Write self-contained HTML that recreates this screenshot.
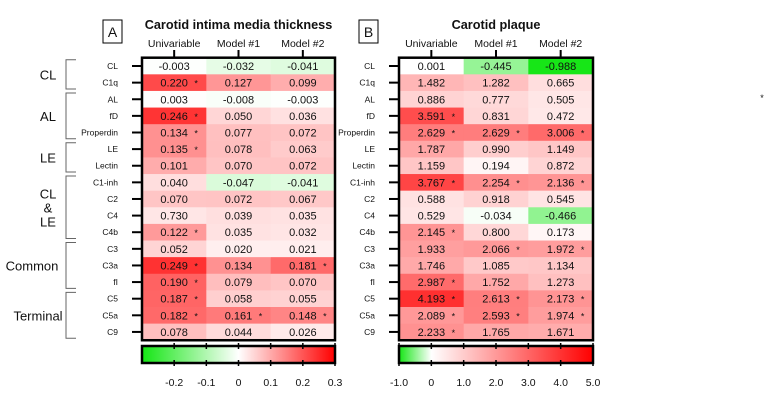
<!DOCTYPE html>
<html><head><meta charset="utf-8"><style>
html,body{margin:0;padding:0;background:#fff;}
svg{display:block;font-family:"Liberation Sans",Arial,sans-serif;}
</style></head><body>
<svg id="fig" width="780" height="405" viewBox="0 0 780 405">
<defs>
<linearGradient id="gA" x1="0" x2="1"><stop offset="0" stop-color="rgb(20,230,20)"/><stop offset="0.5" stop-color="#fff"/><stop offset="1" stop-color="rgb(255,0,0)"/></linearGradient>
<linearGradient id="gB" x1="0" x2="1"><stop offset="0" stop-color="rgb(20,230,20)"/><stop offset="0.1667" stop-color="#fff"/><stop offset="1" stop-color="rgb(255,0,0)"/></linearGradient>
</defs>
</svg>
<script>
const rows = ["CL","C1q","AL","fD","Properdin","LE","Lectin","C1-inh","C2","C4","C4b","C3","C3a","fI","C5","C5a","C9"];
const cols = ["Univariable","Model #1","Model #2"];
const groups = ["CL","AL","LE","CL\n&\nLE","Common","Terminal"];
const groupStart = [0,2,5,7,11,14];
const groupEnd = [1,4,6,10,13,16];
const aUni = [-0.003,0.220,0.003,0.246,0.134,0.135,0.101,0.040,0.070,0.030,0.122,0.052,0.249,0.190,0.187,0.182,0.078];
const aM1 = [-0.032,0.127,-0.008,0.050,0.077,0.078,0.070,-0.047,0.072,0.039,0.035,0.020,0.134,0.079,0.058,0.161,0.044];
const aM2 = [-0.041,0.099,-0.003,0.036,0.072,0.063,0.072,-0.041,0.067,0.035,0.032,0.021,0.181,0.070,0.055,0.148,0.026];
const aUniText = ["-0.003","0.220","0.003","0.246","0.134","0.135","0.101","0.040","0.070","0.730","0.122","0.052","0.249","0.190","0.187","0.182","0.078"];
const aSig = [[0,1,0,1,1,1,0,0,0,0,1,0,1,1,1,1,0],[0,0,0,0,0,0,0,0,0,0,0,0,0,0,0,1,0],[0,0,0,0,0,0,0,0,0,0,0,0,1,0,0,1,0]];
const bUni = [0.001,1.482,0.886,3.591,2.629,1.787,1.159,3.767,0.588,0.529,2.145,1.933,1.746,2.987,4.193,2.089,2.233];
const bM1 = [-0.445,1.282,0.777,0.831,2.629,0.990,0.194,2.254,0.918,-0.034,0.800,2.066,1.085,1.752,2.613,2.593,1.765];
const bM2 = [-0.988,0.665,0.505,0.472,3.006,1.149,0.872,2.136,0.545,-0.466,0.173,1.972,1.134,1.273,2.173,1.974,1.671];
const bSig = [[0,0,0,1,1,0,0,1,0,0,1,0,0,1,1,1,1],[0,0,0,0,1,0,0,1,0,0,0,1,0,0,1,1,0],[0,0,0,0,1,0,0,1,0,0,0,1,0,0,1,1,0]];
const aTicks = [-0.2,-0.1,0,0.1,0.2,0.3];
const aTickText = ["-0.2","-0.1","0","0.1","0.2","0.3"];
const bTicks = [-1,0,1,2,3,4,5];
const bTickText = ["-1.0","0","1.0","2.0","3.0","4.0","5.0"];

const NS="http://www.w3.org/2000/svg";
const svg=document.getElementById('fig');
function mk(tag,attrs,parent){const e=document.createElementNS(NS,tag);for(const k in attrs)e.setAttribute(k,attrs[k]);(parent||svg).appendChild(e);return e;}
function txt(s,x,y,size,anchor,weight,parent){const t=mk('text',{x:x,y:y,'font-size':size,'text-anchor':anchor||'middle','font-weight':weight||'normal',fill:'#111'},parent);t.textContent=s;return t;}
const topY=57.7, rowH=16.62;
function rowY(i){return topY+i*rowH;}
function color(v,min,max){
  if(v>=0){const f=Math.min(1,v/max);const g=Math.round(255*(1-f*0.97));return `rgb(255,${g},${g})`;}
  const f=Math.min(1,v/min);return `rgb(${Math.round(255-235*f)},${Math.round(255-25*f)},${Math.round(255-235*f)})`;
}
function panel(cfg){
  const g=mk('g',{});
  
  
  const x0=cfg.x0, cw=(cfg.x1-cfg.x0)/3;
  const sx=v=>x0+(v-cfg.min)/(cfg.max-cfg.min)*(cfg.x1-x0);
  const lb=mk('rect',{x:cfg.lx,y:20,width:19,height:23,fill:'#fff',stroke:'#000','stroke-width':1},g);
  
  
  const lt=txt(cfg.letter,cfg.lx+9.5,37,14,'middle','normal',g);
  
  
  const tt=txt(cfg.title,(x0+cfg.x1)/2,29,12.7,'middle','bold',g);
  
  
  const series=[cfg.s0,cfg.s1,cfg.s2];
  for(let c=0;c<3;c++){
    const cx=x0+cw*(c+0.5);
    const h=txt(cols[c],cx,47,10.5,'middle','normal',g);
    
    
    mk('line',{x1:cx,x2:cx,y1:50,y2:58,stroke:'#000','stroke-width':2},g);
    for(let r=0;r<rows.length;r++){
      const v=series[c][r];
      const cell=mk('rect',{x:x0+cw*c,y:rowY(r),width:cw+0.5,height:rowH+0.5,fill:color(v,cfg.min,cfg.max)},g);
      
      
      const s=(c===0&&cfg.uniText)?cfg.uniText[r]:v.toFixed(3);
      const t=txt(s,cx,rowY(r)+rowH/2+4,11,'middle','normal',g);
      
      
      if(cfg.sig[c][r]){
        const a=txt('*',cx+22,rowY(r)+rowH/2+4,9,'middle','normal',g);
        
        
      }
    }
  }
  const fr=mk('rect',{x:x0,y:topY,width:cfg.x1-x0,height:rowH*rows.length,fill:'none',stroke:'#000','stroke-width':2.5},g);
  
  
  for(let r=0;r<rows.length;r++){
    const y=rowY(r)+rowH/2;
    const rl=txt(rows[r],x0-24,y+3,8.5,'end','normal',g);
    
    
    mk('line',{x1:x0-10,x2:x0,y1:y,y2:y,stroke:'#000','stroke-width':2},g);
  }
  const cb=mk('rect',{x:x0,y:346,width:cfg.x1-x0,height:17,fill:`url(#${cfg.grad})`,stroke:'#000','stroke-width':2.5},g);
  
  
  cfg.ticks.forEach((v,i)=>{
    const x=sx(v);
    mk('line',{x1:x,x2:x,y1:343,y2:349,stroke:'#000','stroke-width':1.5},g);
    mk('line',{x1:x,x2:x,y1:360,y2:366,stroke:'#000','stroke-width':1.5},g);
    const tl=txt(cfg.tickText[i],x,386,10.5,'middle','normal',g);
    
    
  });
}
panel({name:'panel-a-cimt',letter:'A',lx:103,title:'Carotid intima media thickness',x0:142,x1:335,min:-0.3,max:0.3,s0:aUni,s1:aM1,s2:aM2,uniText:aUniText,sig:aSig,ticks:aTicks,tickText:aTickText,grad:'gA'});
panel({name:'panel-b-plaque',letter:'B',lx:359,title:'Carotid plaque',x0:399,x1:593,min:-1,max:5,s0:bUni,s1:bM1,s2:bM2,uniText:null,sig:bSig,ticks:bTicks,tickText:bTickText,grad:'gB'});
groups.forEach((name,i)=>{
  const y1=rowY(groupStart[i])+2, y2=rowY(groupEnd[i]+1)-2;
  const p=mk('path',{d:`M76 ${y1} H66 V${y2} H76`,fill:'none',stroke:'#666','stroke-width':1});
  
  
  const lines=name.split('\n');
  const cy=(y1+y2)/2;
  const gx=name==='Common'?32:(name==='Terminal'?38:48);
  lines.forEach((ln,k)=>{
    const t=txt(ln,gx,cy+5+(k-(lines.length-1)/2)*14,13,'middle');
    
    
  });
});
const st=txt('*',762,101,9,'middle');


</script>
</body></html>
